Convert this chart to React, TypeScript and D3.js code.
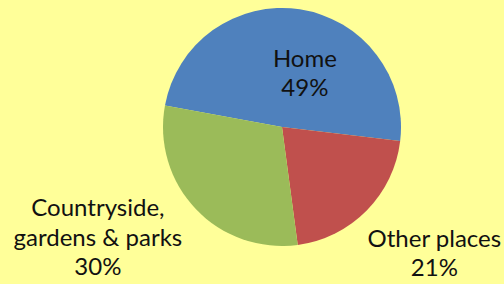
import React from "react";
import * as d3 from "d3";

const labels = ["Home", "Other places", "Countryside,\ngardens & parks"];
const values = [49, 21, 30];
const colors = ["#4F81BD", "#C0504D", "#9BBB59"];

const width = 504;
const height = 284;
const cx = 282;
const cy = 127;
const radius = 119;
const startDeg = 280.4;
// nudges from each slice's centroid to the first text baseline
const labelShift: [number, number][] = [[14, -1.5], [110, 78], [-141, 48]];
const lineHeight = 29.5;

export default function App() {
  const pie = d3
    .pie<number>()
    .sort(null)
    .startAngle((startDeg * Math.PI) / 180)
    .endAngle(((startDeg + 360) * Math.PI) / 180);
  const arcs = pie(values);
  const arc = d3.arc<d3.PieArcDatum<number>>().innerRadius(0).outerRadius(radius);

  return (
    <div style={{ position: "fixed", left: 0, top: 0, width, height, background: "#FFFF99" }}>
      <svg width={width} height={height} style={{ display: "block" }}>
        <rect width={width} height={height} fill="#FFFF99" />
        <g transform={`translate(${cx},${cy})`}>
          {arcs.map((a, i) => (
            <path key={i} d={arc(a) || ""} fill={colors[i]} />
          ))}
        </g>
        {arcs.map((a, i) => {
          const [x, y] = arc.centroid(a);
          const lines = labels[i].split("\n").concat([`${values[i]}%`]);
          return (
            <text
              key={i}
              x={cx + x + labelShift[i][0]}
              y={cy + y + labelShift[i][1]}
              textAnchor="middle"
              fontFamily="Lato, sans-serif"
              fontSize={24}
              fill="#111"
            >
              {lines.map((l, j) => (
                <tspan key={j} x={cx + x + labelShift[i][0]} dy={j === 0 ? 0 : lineHeight}>
                  {l}
                </tspan>
              ))}
            </text>
          );
        })}
      </svg>
    </div>
  );
}
